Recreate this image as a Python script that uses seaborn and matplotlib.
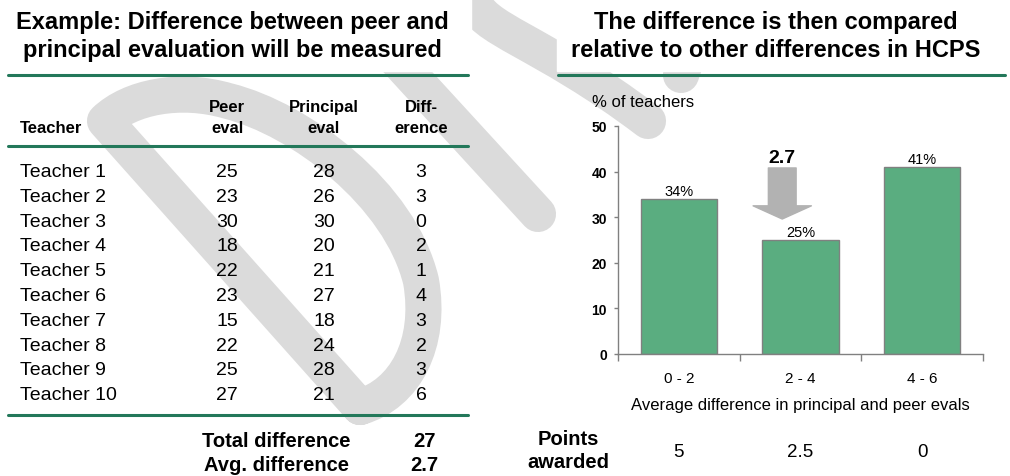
import matplotlib
matplotlib.use('Agg')
import matplotlib.pyplot as plt
import matplotlib.transforms as mtransforms
from matplotlib.patches import Rectangle, PathPatch
from matplotlib.path import Path
import pandas as pd
import seaborn as sns

# table on the left
teachers = ['Teacher 1', 'Teacher 2', 'Teacher 3', 'Teacher 4', 'Teacher 5',
            'Teacher 6', 'Teacher 7', 'Teacher 8', 'Teacher 9', 'Teacher 10']
peer_eval = [25, 23, 30, 18, 22, 23, 15, 22, 25, 27]
principal_eval = [28, 26, 30, 20, 21, 27, 18, 24, 28, 21]
difference = [3, 3, 0, 2, 1, 4, 3, 2, 3, 6]
total_difference = 27
avg_difference = 2.7

# bar chart on the right
diff_ranges = ['0 - 2', '2 - 4', '4 - 6']
pct_teachers = [34, 25, 41]
points_awarded = ['5', '2.5', '0']

sns.set_style('white')
plt.rcParams['font.family'] = ['Liberation Sans', 'DejaVu Sans']
plt.rcParams['text.color'] = 'black'
plt.rcParams['axes.labelcolor'] = 'black'
plt.rcParams['xtick.labelcolor'] = 'black'
plt.rcParams['ytick.labelcolor'] = 'black'

GREEN_LINE = '#23785a'
BAR_GREEN = '#5aad80'
AXIS_GREY = '#808080'
WATERMARK = '#dbdbdb'

W, H = 1010, 477
fig = plt.figure(figsize=(W / 100, H / 100), dpi=100)

# whole-slide canvas, pixel coordinates (y down)
bg = fig.add_axes([0, 0, 1, 1])
bg.set_xlim(0, W)
bg.set_ylim(H, 0)
bg.axis('off')

# faint watermark strokes behind everything
M, L, C = Path.MOVETO, Path.LINETO, Path.CURVE4
wm_paths = [
    Path([(360, 408), (105, 122),
          (130, 98), (180, 88), (228, 102),
          (300, 120), (400, 195), (421, 282),
          (432, 345), (405, 395), (360, 408)],
         [M, L, C, C, C, C, C, C, C, C, C]),
    Path([(350, 10), (538, 215)], [M, L]),
    Path([(474, 0), (478, 30), (540, 40), (648, 122)], [M, C, C, C]),
    Path([(700, 20), (681, 76)], [M, L]),
]
for p in wm_paths:
    bg.add_patch(PathPatch(p, fill=False, edgecolor=WATERMARK, lw=26,
                           capstyle='round', joinstyle='round', zorder=1))

# title boxes are white and hide the watermark
bg.add_patch(Rectangle((0, 0), 471, 72, color='white', zorder=2))
bg.add_patch(Rectangle((557, 0), 453, 72, color='white', zorder=2))

title_kw = dict(fontsize=17, fontweight='bold', ha='center', va='baseline', zorder=5)
bg.text(232, 29, 'Example: Difference between peer and', **title_kw)
bg.text(232, 57, 'principal evaluation will be measured', **title_kw)
bg.text(776, 29, 'The difference is then compared', **title_kw)
bg.text(776, 57, 'relative to other differences in HCPS', **title_kw)

for y in (76, 147, 416):
    bg.plot([8, 468], [y, y], color=GREEN_LINE, lw=2.2, zorder=3)
bg.plot([558, 1005], [76, 76], color=GREEN_LINE, lw=2.2, zorder=3)

# table header
col_x = [227, 324, 421]
hdr_kw = dict(fontsize=12, fontweight='bold', va='baseline', zorder=5)
bg.text(20, 133, 'Teacher', ha='left', **hdr_kw)
for x, top, bottom in zip(col_x, ['Peer', 'Principal', 'Diff-'], ['eval', 'eval', 'erence']):
    bg.text(x, 112, top, ha='center', **hdr_kw)
    bg.text(x, 133, bottom, ha='center', **hdr_kw)

# table rows
row_kw = dict(fontsize=14, va='baseline', zorder=5)
for i, name in enumerate(teachers):
    y = 177 + i * 24.8
    bg.text(20, y, name, ha='left', **row_kw)
    bg.text(col_x[0], y, str(peer_eval[i]), ha='center', **row_kw)
    bg.text(col_x[1], y, str(principal_eval[i]), ha='center', **row_kw)
    bg.text(col_x[2], y, str(difference[i]), ha='center', **row_kw)

sum_kw = dict(fontsize=14.5, fontweight='bold', va='baseline', ha='center', zorder=5)
bg.text(276, 447, 'Total difference', **sum_kw)
bg.text(424, 447, str(total_difference), **sum_kw)
bg.text(276, 471, 'Avg. difference', **sum_kw)
bg.text(424, 471, str(avg_difference), **sum_kw)

# bar chart
ax = fig.add_axes([618 / W, 1 - 355 / H, 365 / W, 228 / H])
ax.set_facecolor('none')
df = pd.DataFrame({'range': diff_ranges, 'pct': pct_teachers})
sns.barplot(data=df, x='range', y='pct', color=BAR_GREEN, saturation=1,
            width=0.63, edgecolor=AXIS_GREY, linewidth=1, ax=ax)
ax.set_xlim(-0.5, 2.5)
ax.set_ylim(0, 50)
ax.set_yticks(range(0, 51, 10))
ax.set_xticks([-0.5, 0.5, 1.5, 2.5], minor=True)
sns.despine(ax=ax)
for side in ('left', 'bottom'):
    ax.spines[side].set_color(AXIS_GREY)
    ax.spines[side].set_linewidth(1)
ax.tick_params(axis='y', left=True, length=3, width=1, color=AXIS_GREY, pad=5)
for lbl in ax.get_yticklabels():
    lbl.set_fontsize(10)
    lbl.set_fontweight('bold')
ax.tick_params(axis='x', which='major', bottom=False, length=0, pad=12, labelsize=11)
ax.tick_params(axis='x', which='minor', bottom=True, length=5, width=1, color=AXIS_GREY)

ax.set_xlabel('Average difference in principal and peer evals', fontsize=12, va='top')
ax.xaxis.set_label_coords(0.5, (355 - 398) / 228)
ax.set_ylabel('% of teachers', fontsize=12, rotation=0, ha='left', va='baseline')
ax.yaxis.set_label_coords((592 - 618) / 365, (355 - 107) / 228)

for bar, v in zip(ax.patches, pct_teachers):
    ax.annotate(f'{v}%', (bar.get_x() + bar.get_width() / 2, bar.get_height()),
                xytext=(0, 3), textcoords='offset points', ha='center',
                va='baseline', fontsize=10.5)

# where the example average falls on the x scale
lo, hi = 2, 4
xa = 1 - 0.5 + (avg_difference - lo) / (hi - lo)
ax.annotate('', xy=(xa, 29.6), xytext=(xa, 40.8),
            arrowprops=dict(arrowstyle='simple,head_length=0.95,head_width=4.2,tail_width=2.0',
                            mutation_scale=10, color='#b2b2b2', shrinkA=0, shrinkB=0))
ax.text(xa, 42.1, str(avg_difference), ha='center', va='baseline',
        fontsize=14, fontweight='bold')

# points row under the chart
mix = mtransforms.blended_transform_factory(ax.transData, bg.transData)
for i, pts in enumerate(points_awarded):
    ax.text(i, 457, pts, transform=mix, ha='center', va='baseline',
            fontsize=13.5, clip_on=False)
bg.text(568, 445, 'Points', fontsize=14.5, fontweight='bold', ha='center', va='baseline')
bg.text(568, 468, 'awarded', fontsize=14.5, fontweight='bold', ha='center', va='baseline')

fig.savefig('out.png', dpi=100)
